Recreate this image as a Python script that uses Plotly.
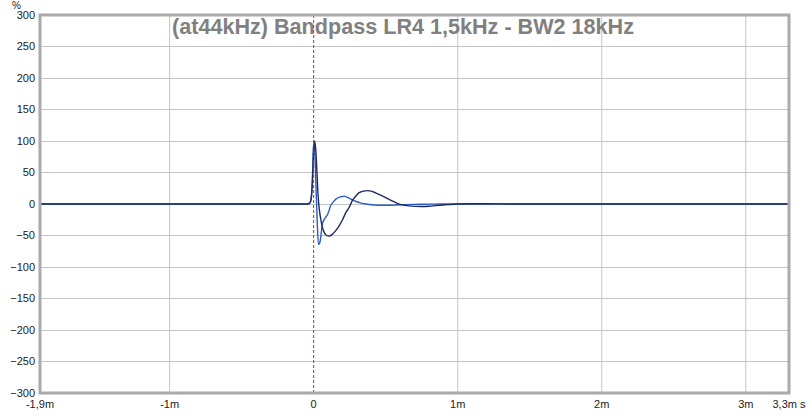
import plotly.graph_objects as go

# ---- data (time in ms, amplitude in %) ----
t_navy = [-1.9, -1.0, -0.5, -0.2, -0.1, -0.05, -0.03, -0.02, -0.01, 0.0, 0.007, 0.015, 0.025, 0.03,
          0.04, 0.05, 0.06, 0.075, 0.09, 0.107, 0.125, 0.15, 0.176, 0.2, 0.225, 0.245, 0.27, 0.29,
          0.316, 0.345, 0.374, 0.40, 0.43, 0.465, 0.5, 0.54, 0.58, 0.62, 0.66, 0.71, 0.75, 0.8,
          0.87, 0.93, 1.0, 1.1, 1.2, 1.35, 1.6, 2.0, 2.5, 3.0, 3.3]
v_navy = [0, 0, 0, 0, 0, 0, 1, 5, 30, 85, 100, 85, 40, 15,
          -10, -25, -37, -46, -50, -51, -49, -43, -35, -25, -13, -6, 6, 12,
          18, 20.5, 21.2, 20.5, 17.7, 14, 10, 5.5, 1, -1.8, -3, -3.8, -4, -3.5,
          -2, -1, 0, 0.3, 0.3, 0, 0, 0, 0, 0, 0]

t_blue = [-1.9, -1.0, -0.5, -0.2, -0.1, -0.04, -0.025, -0.015, -0.008, -0.002, 0.003, 0.01, 0.018,
          0.025, 0.034, 0.042, 0.05, 0.062, 0.08, 0.096, 0.11, 0.119, 0.135, 0.154, 0.18, 0.2,
          0.214, 0.23, 0.248, 0.27, 0.294, 0.33, 0.363, 0.4, 0.45, 0.52, 0.63, 0.75, 0.9, 1.1,
          1.5, 2.0, 2.5, 3.0, 3.3]
v_blue = [0, 0, 0, 0, 0, 0, 2, 12, 45, 90, 97, 70, 15,
          -30, -64, -62, -51, -30, -22, -17, -8, -2, 3, 7.8, 11, 12,
          12.5, 11, 9, 6.5, 4, 1.5, 0, -1.3, -2, -2, -1, -0.3, 0, 0,
          0, 0, 0, 0, 0]

x_tickvals = [-1.9, -1, 0, 1, 2, 3, 3.3]
x_ticktext = ["-1,9m", "-1m", "0", "1m", "2m", "3m", "3,3m s"]
x_grid = [-1, 1, 2, 3]
y_tickvals = [-300, -250, -200, -150, -100, -50, 0, 50, 100, 150, 200, 250, 300]

title_text = "(at44kHz) Bandpass LR4 1,5kHz - BW2 18kHz"

FONT = "Liberation Sans"

fig = go.Figure()
fig.add_trace(go.Scatter(x=t_blue, y=v_blue, mode="lines",
                         line=dict(color="#2b5bc4", width=1.4, shape="spline", smoothing=0.5),
                         hoverinfo="skip", showlegend=False))
fig.add_trace(go.Scatter(x=t_navy, y=v_navy, mode="lines",
                         line=dict(color="#1b2c5c", width=1.4, shape="spline", smoothing=0.5),
                         hoverinfo="skip", showlegend=False))

shapes = []
for gx in x_grid:
    shapes.append(dict(type="line", xref="x", yref="paper", x0=gx, x1=gx, y0=0, y1=1,
                       line=dict(color="#c4c4c4", width=1), layer="below"))
shapes.append(dict(type="line", xref="x", yref="paper", x0=0, x1=0, y0=0, y1=1,
                   line=dict(color="#cc2222", width=1, dash="3px,2px"), layer="above"))
shapes.append(dict(type="rect", xref="paper", yref="paper", x0=0, x1=1, y0=0, y1=1,
                   line=dict(color="#aaaaaa", width=3), layer="above"))

fig.update_layout(
    width=808, height=415,
    margin=dict(l=40, r=19, t=15, b=22),
    paper_bgcolor="white", plot_bgcolor="white",
    font=dict(family=FONT, size=11, color="#222222"),
    shapes=shapes,
    xaxis=dict(range=[-1.9, 3.3], tickvals=x_tickvals, ticktext=x_ticktext,
               showgrid=False, zeroline=False, showline=False, ticks="",
               automargin=False, ticklabelstandoff=3,
               tickfont=dict(family=FONT, size=11, color="#222222")),
    yaxis=dict(range=[-300, 300], tickvals=y_tickvals, showgrid=True,
               gridcolor="#c4c4c4", gridwidth=1, zeroline=False, showline=False, ticks="",
               automargin=False, ticklabelstandoff=4,
               tickfont=dict(family=FONT, size=11, color="#222222")),
    annotations=[
        dict(text=title_text, xref="paper", yref="paper", x=0.4846, y=1.0,
             xanchor="center", yanchor="top", showarrow=False, yshift=3,
             font=dict(family=FONT, size=21.6, color="#808080", weight="bold")),
        dict(text="%", xref="paper", yref="paper", x=-0.031, y=1.0, xanchor="center",
             yanchor="middle", showarrow=False, yshift=10,
             font=dict(family=FONT, size=10, color="#222222")),
    ],
)

fig.write_html("out.html",
               config={"displayModeBar": False},
               post_script="document.body.style.margin='0';document.body.style.overflow='hidden';")
